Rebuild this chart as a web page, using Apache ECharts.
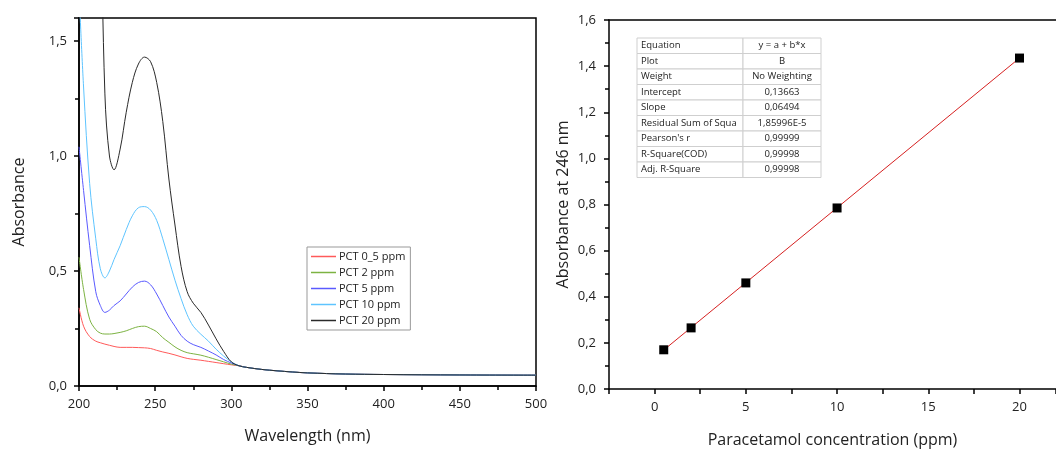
<!DOCTYPE html>
<html><head><meta charset="utf-8">
<script src="https://cdn.jsdelivr.net/npm/echarts@6/dist/echarts.min.js"></script>
<style>html,body{margin:0;padding:0;background:#fff}#c{width:1056px;height:450px}</style>
</head><body><div id="c"></div>
<script>
// ---------- DATA ----------
const wavelengths = [200,203,207,211,214,217,220,223,227,231,235,239,243,247,251,255,259,263,267,271,275,280,285,290,295,300,305,310,320,330,340,350,375,400,450,500];
const tail = [0.081,0.072,0.066,0.061,0.057,0.052,0.050,0.048,0.047];
const pct05 = [0.34,0.26,0.215,0.195,0.188,0.182,0.177,0.172,0.168,0.168,0.168,0.167,0.166,0.163,0.155,0.148,0.142,0.135,0.127,0.120,0.116,0.112,0.107,0.102,0.097,0.092,0.088].concat(tail);
const pct2 = [0.56,0.42,0.29,0.245,0.23,0.226,0.226,0.228,0.233,0.24,0.25,0.258,0.26,0.25,0.236,0.21,0.19,0.17,0.155,0.145,0.14,0.134,0.125,0.115,0.105,0.095,0.088].concat(tail);
const pct5 = [1.04,0.85,0.61,0.41,0.35,0.32,0.33,0.35,0.37,0.40,0.43,0.45,0.456,0.44,0.40,0.35,0.30,0.26,0.22,0.195,0.18,0.168,0.152,0.135,0.115,0.10,0.088].concat(tail);
const pct10 = [1.72,1.30,0.88,0.64,0.51,0.47,0.50,0.55,0.61,0.68,0.74,0.775,0.78,0.765,0.72,0.64,0.55,0.46,0.38,0.31,0.26,0.225,0.195,0.16,0.13,0.105,0.088].concat(tail);
const pct20 = [3.9,3.6,3.2,2.8,2.15,1.27,1.0,0.94,1.03,1.19,1.32,1.40,1.43,1.41,1.32,1.15,0.90,0.70,0.52,0.41,0.36,0.32,0.265,0.205,0.15,0.105,0.088].concat(tail);
const seriesNames = ['PCT 0_5 ppm','PCT 2 ppm','PCT 5 ppm','PCT 10 ppm','PCT 20 ppm'];

const concentrations = [0.5, 2, 5, 10, 20];
const absorbance246 = [0.170, 0.265, 0.460, 0.785, 1.435];
const fitX = [0.5, 20];
const fitY = [0.169, 1.435];

const tableRows = [
  ['Equation','y = a + b*x'],
  ['Plot','B'],
  ['Weight','No Weighting'],
  ['Intercept','0,13663'],
  ['Slope','0,06494'],
  ['Residual Sum of Squa','1,85996E-5'],
  ["Pearson's r",'0,99999'],
  ['R-Square(COD)','0,99998'],
  ['Adj. R-Square','0,99998']
];

// ---------- CHART ----------
const FONT = 'Open Sans';
const chart = echarts.init(document.getElementById('c'), null, {renderer:'canvas'});
const comma = v => String(+v.toFixed(1)).replace('.', ',').replace(/^(\d+)$/, '$1,0');
function pair(xs, ys){ return xs.map((x,i)=>[x, ys[i]]); }
const spectra = [pct05, pct2, pct5, pct10, pct20];
const colors = ['#ff5a5a','#7cb342','#5a5aff','#5ec4ff','#2a2a2a'];

const axisCommon = {
  axisLine:{onZero:false, lineStyle:{color:'#000', width:1.5}},
  axisTick:{inside:false, length:5, lineStyle:{color:'#000', width:1.5}},
  splitLine:{show:false},
  axisLabel:{color:'#222', fontFamily:FONT, fontSize:13},
  nameTextStyle:{color:'#222', fontFamily:FONT, fontSize:16}
};

// table graphic
const tbl = {x:637, y:38, w1:106, w2:78, h:15.5};
const tableGraphics = [];
tableRows.forEach((r,i)=>{
  const y = tbl.y + i*tbl.h;
  tableGraphics.push({type:'rect', shape:{x:tbl.x, y:y, width:tbl.w1, height:tbl.h}, style:{fill:'#fff', stroke:'#cfcfcf', lineWidth:1}, z:100});
  tableGraphics.push({type:'rect', shape:{x:tbl.x+tbl.w1, y:y, width:tbl.w2, height:tbl.h}, style:{fill:'#fff', stroke:'#cfcfcf', lineWidth:1}, z:100});
  tableGraphics.push({type:'text', x:tbl.x+4, y:y+tbl.h/2, style:{text:r[0], fill:'#222', font:'9.5px "Open Sans"', textVerticalAlign:'middle', verticalAlign:'middle'}, z:101});
  tableGraphics.push({type:'text', x:tbl.x+tbl.w1+tbl.w2/2, y:y+tbl.h/2, style:{text:r[1], fill:'#222', font:'9.5px "Open Sans"', textAlign:'center', align:'center', textVerticalAlign:'middle', verticalAlign:'middle'}, z:101});
});

const option = {
  backgroundColor:'#fff',
  animation:false,
  grid:[
    {left:79, right:520, top:18, bottom:64, show:true, borderColor:'#000', borderWidth:1.5, backgroundColor:'transparent', containLabel:false, outerBoundsMode:'none'},
    {left:609, right:0, top:20, bottom:61, show:false, containLabel:false, outerBoundsMode:'none'}
  ],
  legend:{
    orient:'vertical', left:307, top:247,
    data:seriesNames, icon:'rect', itemWidth:25, itemHeight:1.5, itemGap:5,
    padding:[4,5,4,4],
    borderColor:'#999', borderWidth:1, backgroundColor:'#fff',
    textStyle:{fontFamily:FONT, fontSize:11, color:'#222', padding:[0,0,0,-2]}
  },
  xAxis:[
    Object.assign({}, axisCommon, {gridIndex:0, type:'value', min:200, max:500, interval:50,
      name:'Wavelength (nm)', nameLocation:'middle', nameGap:42,
      minorTick:{show:true, splitNumber:2, length:4, lineStyle:{color:'#000', width:1.5}},
      axisLabel:Object.assign({}, axisCommon.axisLabel, {margin:12})}),
    Object.assign({}, axisCommon, {gridIndex:1, type:'value', min:-2.5, max:22, interval:2.5,
      name:'Paracetamol concentration (ppm)', nameLocation:'middle', nameGap:43,
      axisLabel:Object.assign({}, axisCommon.axisLabel, {margin:12,
        formatter:v=> (v <= 20 && Math.abs(v/5 - Math.round(v/5))<1e-6 ? String(v) : '')})}),
    {gridIndex:1, type:'value', position:'top', min:-2.5, max:22,
      axisLine:{show:true, onZero:false, lineStyle:{color:'#000', width:1.5}},
      axisTick:{show:false}, axisLabel:{show:false}, splitLine:{show:false}}
  ],
  yAxis:[
    Object.assign({}, axisCommon, {gridIndex:0, type:'value', min:0, max:1.6, interval:0.5,
      name:'Absorbance', nameLocation:'middle', nameGap:52,
      minorTick:{show:true, splitNumber:2, length:4, lineStyle:{color:'#000', width:1.5}},
      axisLabel:Object.assign({}, axisCommon.axisLabel, {margin:12,
        formatter:v=> (Math.abs(v/0.5 - Math.round(v/0.5))<1e-6 ? comma(v) : '')})}),
    Object.assign({}, axisCommon, {gridIndex:1, type:'value', min:0, max:1.6, interval:0.2,
      name:'Absorbance at 246 nm', nameLocation:'middle', nameGap:38,
      minorTick:{show:true, splitNumber:2, length:4, lineStyle:{color:'#000', width:1.5}},
      axisLabel:Object.assign({}, axisCommon.axisLabel, {margin:13, formatter:v=>comma(v)})})
  ],
  series: spectra.map((ys,i)=>({
    name:seriesNames[i], type:'line', xAxisIndex:0, yAxisIndex:0,
    data:pair(wavelengths, ys), showSymbol:false, symbol:'none', smooth:0.35,
    color:colors[i], lineStyle:{width:1, color:colors[i]}, clip:true, z:2+i
  })).concat([
    {name:'fit', type:'line', xAxisIndex:1, yAxisIndex:1, data:pair(fitX, fitY), symbol:'none',
      lineStyle:{color:'#d62020', width:1}, z:3},
    {name:'points', type:'scatter', xAxisIndex:1, yAxisIndex:1, data:pair(concentrations, absorbance246),
      symbol:'rect', symbolSize:9, itemStyle:{color:'#000', opacity:1}, z:4}
  ]),
  graphic: tableGraphics
};
chart.setOption(option);
</script>
</body></html>
